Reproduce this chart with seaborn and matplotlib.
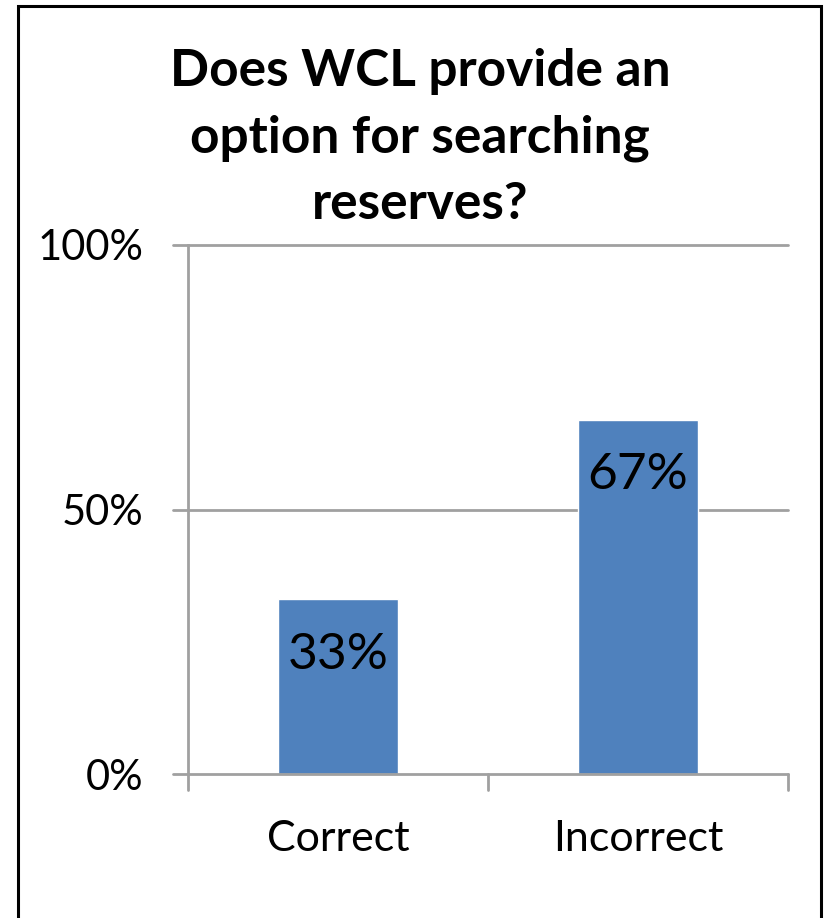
import matplotlib
matplotlib.use('Agg')
import matplotlib.pyplot as plt
import seaborn as sns
import pandas as pd
from matplotlib.patches import Rectangle

# dados do gráfico
categorias = ['Correct', 'Incorrect']
valores = [33, 67]
rotulos = ['33%', '67%']
titulo = 'Does WCL provide an\noption for searching\nreserves?'
yticks = [0, 50, 100]
yticklabels = ['0%', '50%', '100%']

sns.set_style('white')
plt.rcParams['font.family'] = ['Lato', 'DejaVu Sans']
plt.rcParams['text.color'] = 'black'

df = pd.DataFrame({'categoria': categorias, 'valor': valores})

fig = plt.figure(figsize=(8.25, 9.18), dpi=100)
ax = fig.add_axes([188 / 825, (918 - 774) / 918, 600 / 825, 529 / 918])

sns.barplot(data=df, x='categoria', y='valor', ax=ax, color='#4F81BD',
            saturation=1, width=0.4)

ax.set_ylim(0, 100)
ax.set_xlim(-0.5, 1.5)
ax.set_yticks(yticks)
ax.set_yticklabels(yticklabels, fontsize=30, color='black')
ax.set_xticks([0, 1])
ax.set_xticklabels(categorias, fontsize=31, color='black')
ax.tick_params(axis='x', length=0, pad=33)
ax.tick_params(axis='y', length=0, pad=32)
ax.set_xlabel('')
ax.set_ylabel('')

# grade e eixos cinza
cinza = '#A0A0A0'
for v in [50, 100]:
    ax.plot([-0.55, 1.5], [v, v], color=cinza, lw=2, clip_on=False, zorder=0)
ax.plot([-0.55, 1.5], [0, 0], color=cinza, lw=2, clip_on=False, zorder=3)
for x in [-0.5, 0.5, 1.5]:
    ax.plot([x, x], [0, -3], color=cinza, lw=2, clip_on=False)
for s in ['top', 'right', 'bottom']:
    ax.spines[s].set_visible(False)
ax.spines['left'].set_color(cinza)
ax.spines['left'].set_linewidth(2)

# rótulos dentro das barras
for i, (v, r) in enumerate(zip(valores, rotulos)):
    ax.annotate(r, xy=(i, v), xytext=(0, -40), textcoords='offset points',
                ha='center', va='center', fontsize=37, color='black')

fig.text(420 / 825, 1 - 138 / 918, titulo, ha='center', va='center',
         fontsize=37, fontweight='bold', linespacing=1.5, color='black')

# moldura preta
fig.patches.append(Rectangle((18 / 825, -0.02), 803 / 825, 0.02 + 912 / 918,
                             transform=fig.transFigure, fill=False,
                             edgecolor='black', lw=2.2))

plt.savefig('out.png', dpi=100, facecolor='white')
